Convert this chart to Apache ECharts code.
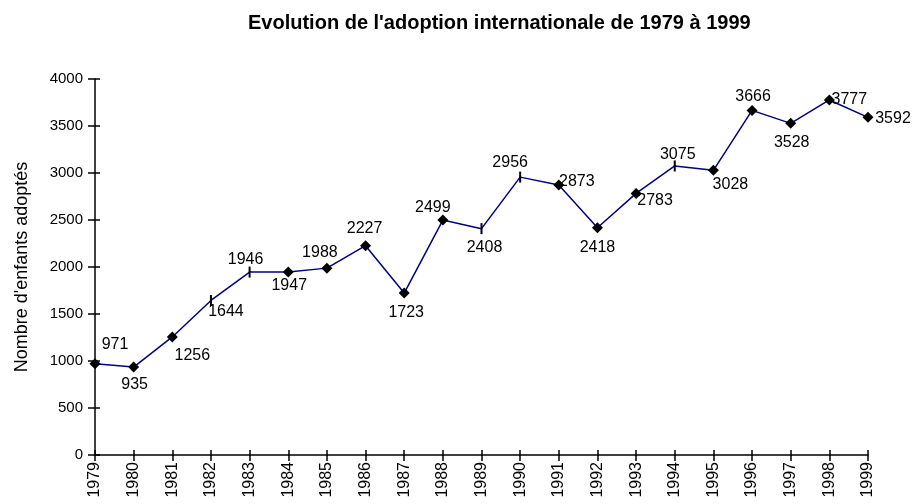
<!DOCTYPE html>
<html>
<head>
<meta charset="utf-8">
<script src="https://cdn.jsdelivr.net/npm/echarts@6/dist/echarts.min.js"></script>
<style>
  html, body { margin: 0; padding: 0; background: #fff; }
  #main { width: 920px; height: 504px; }
</style>
</head>
<body>
<div id="main"></div>
<script>
var years = ['1979','1980','1981','1982','1983','1984','1985','1986','1987','1988','1989',
  '1990','1991','1992','1993','1994','1995','1996','1997','1998','1999']
var adoptions = [971, 935, 1256, 1644, 1946, 1947, 1988, 2227, 1723, 2499, 2408,
  2956, 2873, 2418, 2783, 3075, 3028, 3666, 3528, 3777, 3592]
var yTicks = [0, 500, 1000, 1500, 2000, 2500, 3000, 3500, 4000]

// where each value label sits relative to its point (style only)
var labelOffsets = [[20,-19],[1,17],[20,19],[15,11],[-4,-12],[1,14],[-7,-16],[-1,-17],[2,20],[-10,-13],[3,19],
  [-10,-15],[18,-3],[0,20],[19,7],[3,-11],[17,14],[1,-14],[1,19],[20,0],[25,1]]
// points drawn with a small vertical stroke instead of a diamond
var tickPoints = ['1982','1983','1989','1990','1994']

var seriesData = []
for (var i = 0; i < years.length; i++) {
  var item = {
    value: adoptions[i],
    label: { offset: labelOffsets[i] }
  }
  if (tickPoints.indexOf(years[i]) >= 0) {
    item.symbol = 'rect'
    item.symbolSize = [2, 11]
  }
  seriesData.push(item)
}

var myChart = echarts.init(document.getElementById('main'))
var font = 'Liberation Sans, Arial, sans-serif'
var tickStyle = { color: '#000', width: 1.5 }
var option = {
  animation: false,
  textStyle: { fontFamily: font },
  title: {
    text: "Evolution de l'adoption internationale de 1979 à 1999",
    left: 243,
    top: 8,
    textStyle: { fontSize: 20, fontWeight: 'bold', color: '#000', fontFamily: font }
  },
  grid: { left: 95, right: 52, top: 79, bottom: 49 },
  xAxis: [
    {
      type: 'category',
      data: years,
      boundaryGap: false,
      axisLine: { lineStyle: tickStyle },
      axisTick: { length: 6, lineStyle: tickStyle },
      axisLabel: { rotate: 90, color: '#000', fontSize: 16, margin: 7, interval: 0, fontFamily: font }
    },
    {
      type: 'category',
      data: years,
      boundaryGap: false,
      position: 'bottom',
      axisLine: { show: true, lineStyle: { color: 'rgba(0,0,0,0)' } },
      axisTick: { show: true, inside: true, length: 5, lineStyle: tickStyle },
      axisLabel: { show: false }
    }
  ],
  yAxis: [
    {
      type: 'value',
      min: yTicks[0],
      max: yTicks[yTicks.length - 1],
      interval: yTicks[1] - yTicks[0],
      name: "Nombre d'enfants adoptés",
      nameLocation: 'middle',
      nameGap: 64,
      nameTextStyle: { fontSize: 18, color: '#000', fontFamily: font },
      splitLine: { show: false },
      axisLine: { show: true, lineStyle: tickStyle },
      axisTick: { show: true, length: 7, lineStyle: tickStyle },
      axisLabel: {
        color: '#000', fontSize: 15, margin: 12, fontFamily: font,
        formatter: function(v) { return String(v) }
      }
    },
    {
      type: 'value',
      min: yTicks[0],
      max: yTicks[yTicks.length - 1],
      interval: yTicks[1] - yTicks[0],
      position: 'left',
      splitLine: { show: false },
      axisLine: { show: true, lineStyle: { color: 'rgba(0,0,0,0)' } },
      axisTick: { show: true, inside: true, length: 5, lineStyle: tickStyle },
      axisLabel: { show: false }
    }
  ],
  series: [
    {
      type: 'line',
      data: seriesData,
      symbol: 'diamond',
      symbolSize: 11,
      showAllSymbol: true,
      itemStyle: { color: '#000' },
      lineStyle: { color: '#000080', width: 1.5 },
      label: {
        show: true,
        position: 'inside',
        color: '#000',
        fontSize: 16,
        fontFamily: font
      }
    }
  ]
}
myChart.setOption(option)
</script>
</body>
</html>
